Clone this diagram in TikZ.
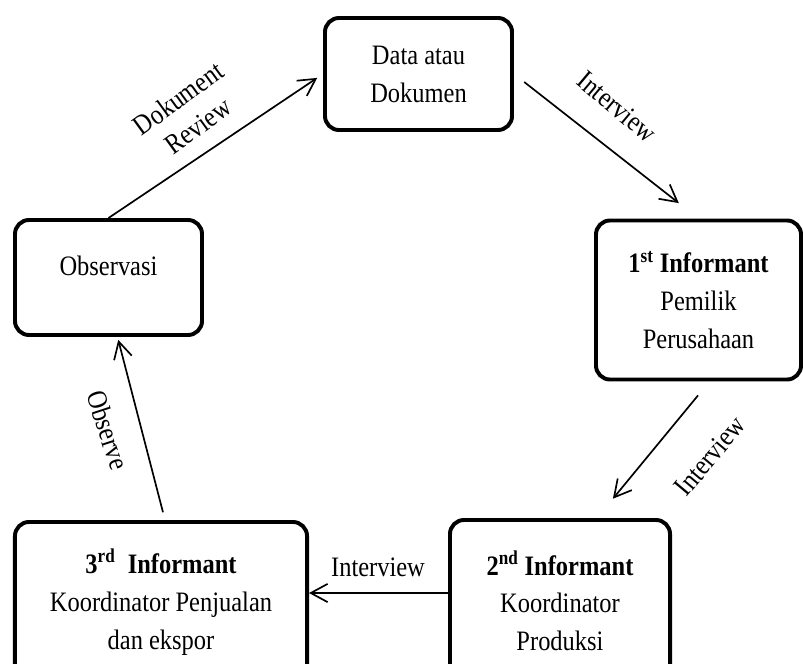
\documentclass[tikz,border=0pt]{standalone}
\usepackage{fontspec}
\setmainfont{Liberation Serif}[FakeStretch=0.87]
\usetikzlibrary{arrows.meta,calc}

\begin{document}
\begin{tikzpicture}[x=0.025cm, y=-0.025cm,
  box/.style={draw, line width=2.8pt, rounded corners=10pt, align=center,
    font=\fontsize{20}{27}\selectfont},
  flow/.style={line width=1.2pt, -{Straight Barb[length=12pt,width=13pt]}},
  lbl/.style={font=\fontsize{20}{24}\selectfont, align=center, inner sep=0pt}]
% Page size, same proportions as the reference
\useasboundingbox (0,0) rectangle (803,664);
\clip (0,0) rectangle (803,664);

% The five boxes
\node[box, minimum width=4.675cm, minimum height=2.8cm] (doc) at (418.5,74) {Data atau\\Dokumen};
\node[box, minimum width=4.675cm, minimum height=2.875cm, text depth=0.6cm] (obs) at (108.5,277.5) {Observasi};
\node[box, minimum width=5.125cm, minimum height=3.975cm] (inf1) at (698.5,300)
  {\textbf{1\textsuperscript{st} Informant}\\Pemilik\\Perusahaan};
\node[box, minimum width=5.5cm, minimum height=4.05cm] (inf2) at (560,601)
  {\textbf{2\textsuperscript{nd} Informant}\\Koordinator\\Produksi};
\node[box, minimum width=7.3cm, minimum height=4.0cm] (inf3) at (161,602)
  {\textbf{3\textsuperscript{rd}\ \ Informant}\\Koordinator Penjualan\\dan ekspor};

% Connectors
\draw[flow, shorten >=7*0.025cm] (obs.north) -- (doc.west);
\draw[flow, shorten <=13*0.025cm, shorten >=25*0.025cm] (doc.east) -- (inf1.north);
\draw[flow, shorten <=18*0.025cm, shorten >=25*0.025cm] ($(inf1.south)+(11,0)$) -- ($(inf2.north)+(37,0)$);
\draw[flow] ($(inf2.west)+(0,-8)$) -- ($(inf3.east)+(0,-9)$);
\draw[flow, shorten <=8*0.025cm, shorten >=3*0.025cm] ($(inf3.north)+(4,0)$) -- ($(obs.south)+(9,0)$);

% Labels on the connectors
\node[lbl, rotate=36] (lrev) at (188,112) {Dokument\\Review};
\node[lbl, rotate=-40] (lint1) at (617,107) {Interview};
\node[lbl, rotate=50] (lint2) at (710,456) {Interview};
\node[lbl] (lint3) at (378,567) {Interview};
\node[lbl, rotate=-72] (lobs) at (108,430) {Observe};
\end{tikzpicture}
\end{document}
